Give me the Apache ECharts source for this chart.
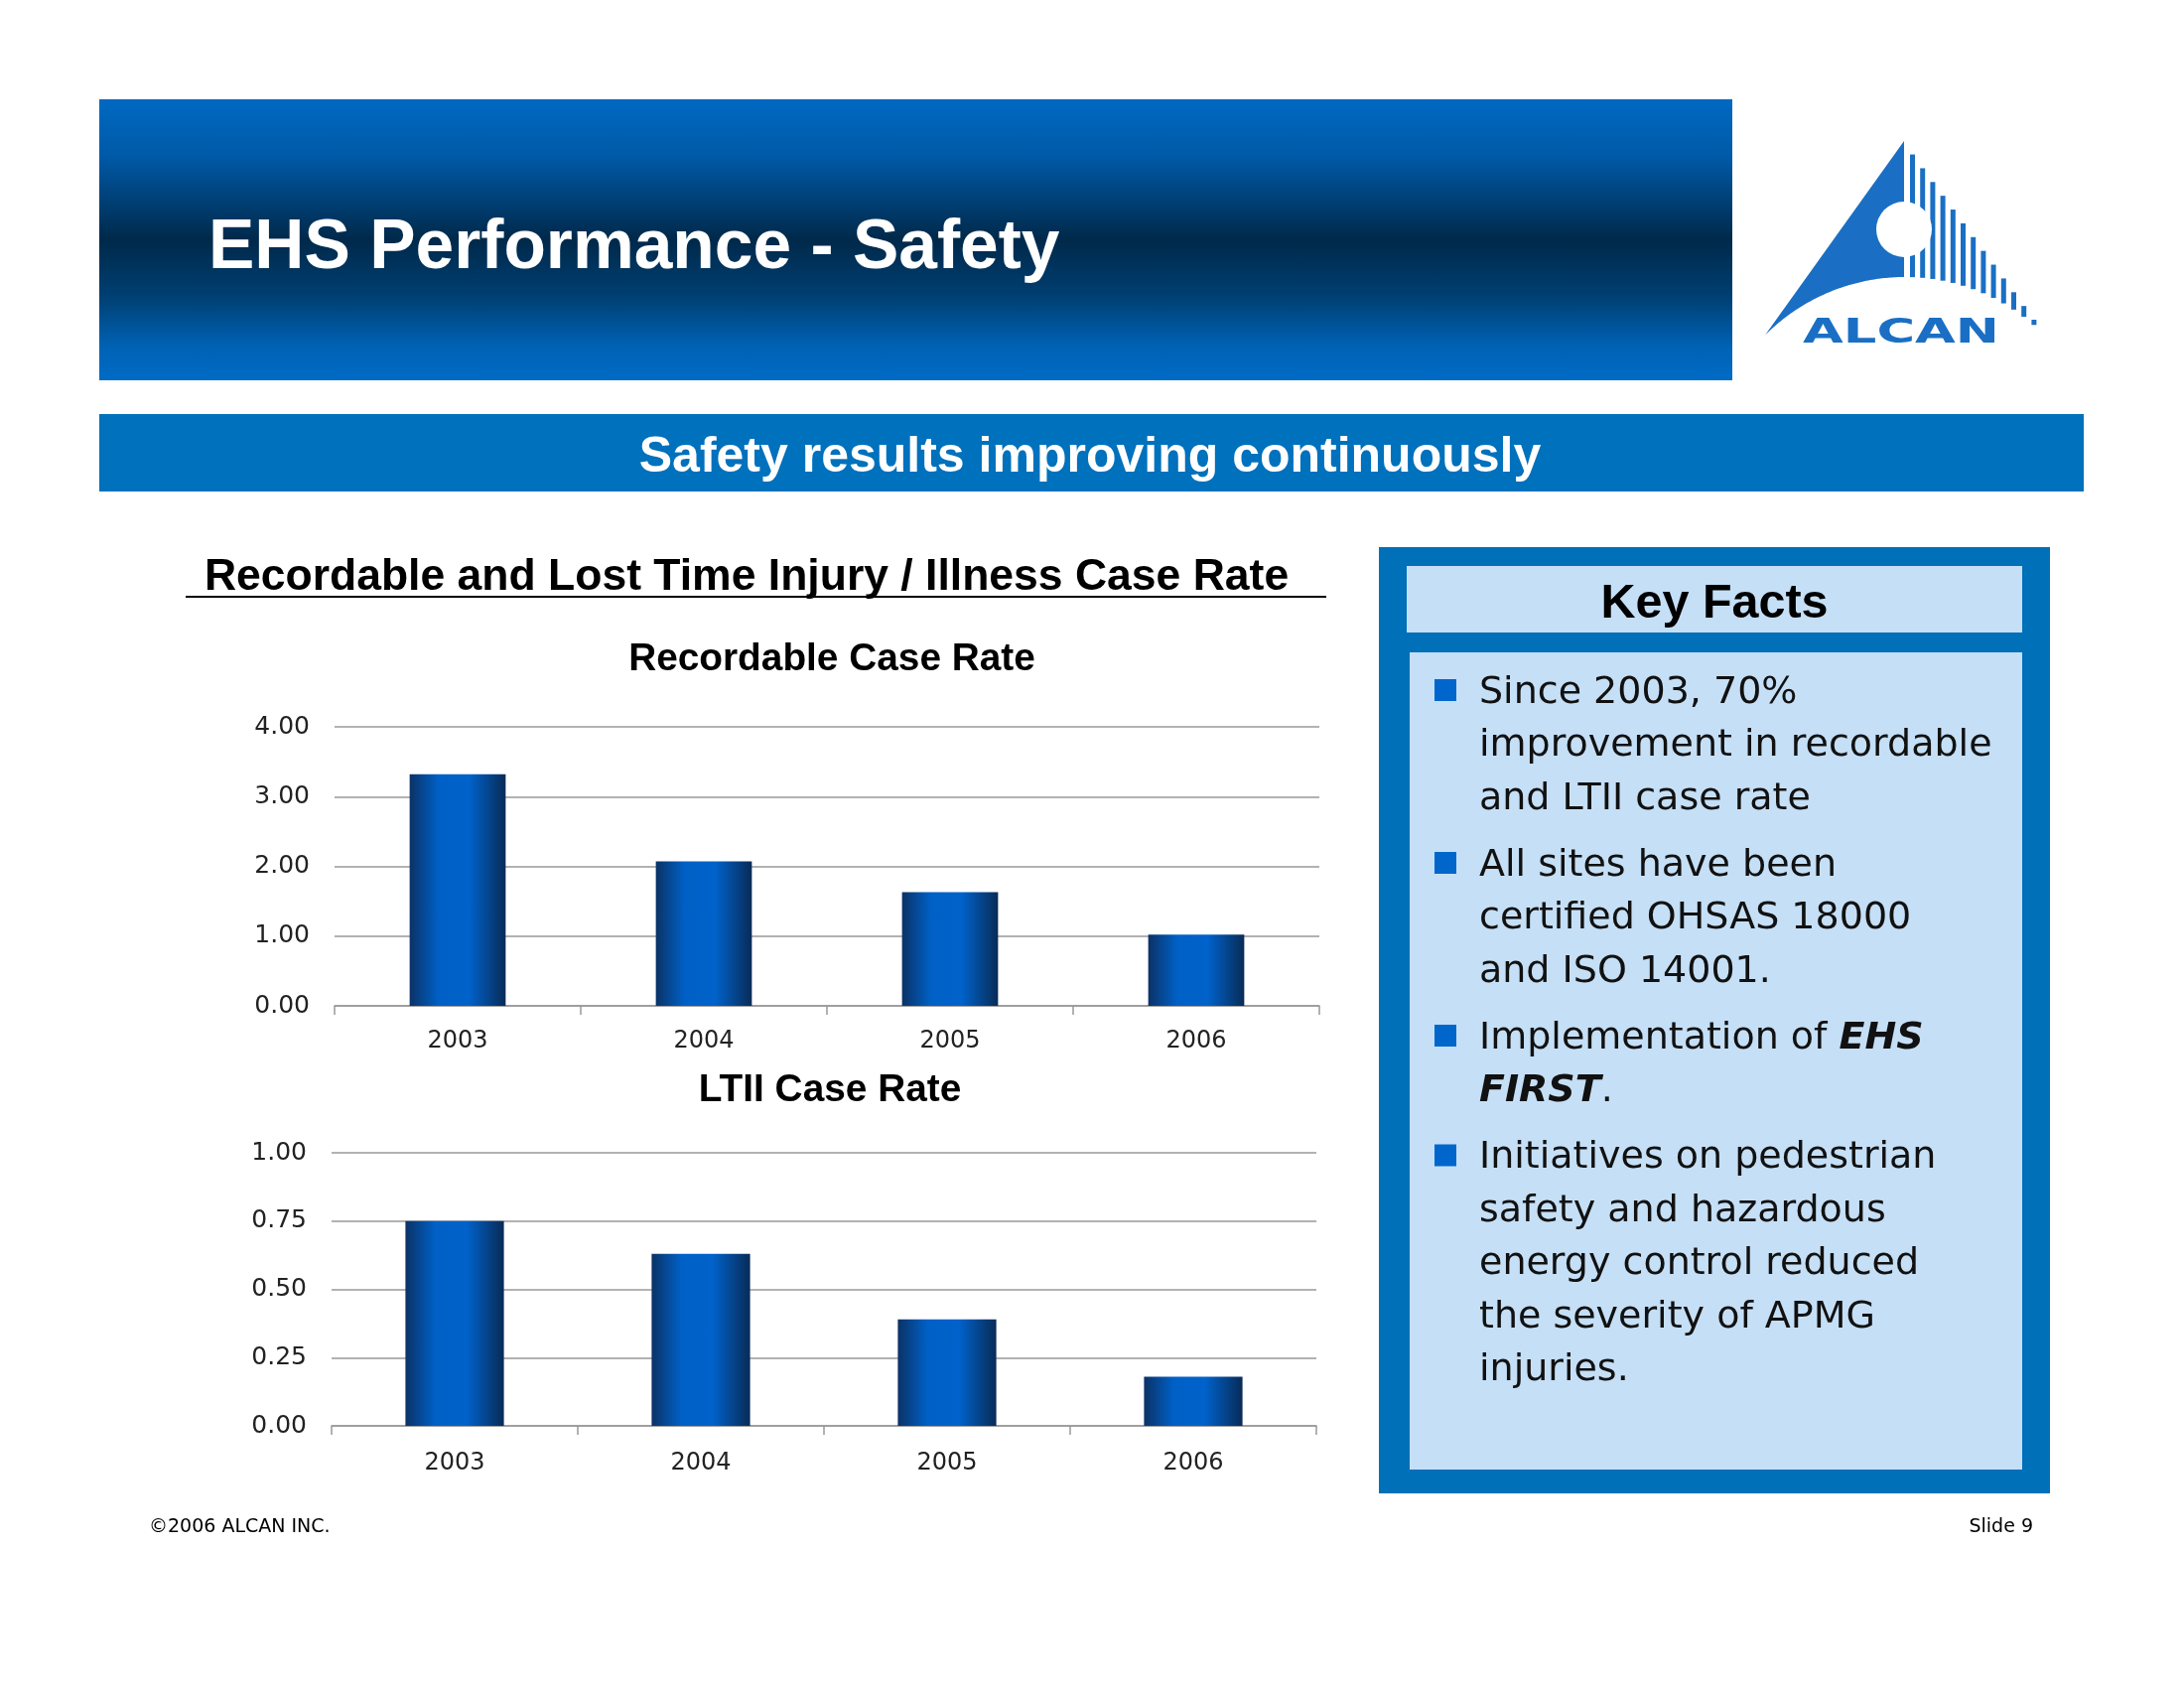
<!DOCTYPE html>
<html><head><meta charset="utf-8">
<script src="https://cdn.jsdelivr.net/npm/echarts@6/dist/echarts.min.js"></script>
<style>html,body{margin:0;padding:0;background:#fff}#c{width:2200px;height:1700px}</style>
</head><body><div id="c"></div>
<script>
// ---- data ----
const years = ['2003', '2004', '2005', '2006'];
const recordableRate = [3.32, 2.07, 1.63, 1.02];
const ltiiRate = [0.75, 0.63, 0.39, 0.18];
const recordableTicks = [0, 1, 2, 3, 4];
const ltiiTicks = [0, 0.25, 0.5, 0.75, 1];
const slideTitle = 'EHS Performance - Safety';
const slideSubtitle = 'Safety results improving continuously';
const sectionTitle = 'Recordable and Lost Time Injury / Illness Case Rate';
const chartTitles = ['Recordable Case Rate', 'LTII Case Rate'];
const keyFactsTitle = 'Key Facts';
const keyFacts = [
  ['Since 2003, 70%', 'improvement in recordable', 'and LTII case rate'],
  ['All sites have been', 'certified OHSAS 18000', 'and ISO 14001.'],
  ['Implementation of {b|EHS}', '{b|FIRST}.'],
  ['Initiatives on pedestrian', 'safety and hazardous', 'energy control reduced', 'the severity of APMG', 'injuries.']
];
const footerLeft = '\u00A92006 ALCAN INC.';
const footerRight = 'Slide 9';

// ---- build ----
const chart = echarts.init(document.getElementById('c'), null, {renderer: 'canvas'});
const LG = echarts.graphic.LinearGradient;
const barFill = new LG(0, 0, 1, 0, [
  {offset: 0, color: '#0b3266'},
  {offset: 0.3, color: '#0060c6'},
  {offset: 0.62, color: '#0062ca'},
  {offset: 1, color: '#082b57'}
]);
const SANS = 'Liberation Sans, Arial, sans-serif';
const WIDE = 'DejaVu Sans, sans-serif';

const g = [];
// header band
g.push({type: 'rect', shape: {x: 100, y: 100, width: 1645, height: 283}, z: 1,
  style: {fill: new LG(0, 0, 0, 1, [
    {offset: 0, color: '#0069c2'}, {offset: 0.2, color: '#005aa8'},
    {offset: 0.5, color: '#00294a'}, {offset: 0.7, color: '#003f72'},
    {offset: 0.88, color: '#0062b4'}, {offset: 1, color: '#006bc6'}])}});
g.push({type: 'text', x: 210, y: 251, z: 2,
  style: {text: slideTitle, font: 'bold 69.5px ' + SANS, fill: '#fff', textVerticalAlign: 'middle'}});
// subtitle band
g.push({type: 'rect', shape: {x: 100, y: 417, width: 1999, height: 78}, z: 1, style: {fill: '#0071bc'}});
g.push({type: 'text', x: 1098, y: 461, z: 2,
  style: {text: slideSubtitle, font: 'bold 50px ' + SANS, fill: '#fff', textAlign: 'center', textVerticalAlign: 'middle'}});

// logo
(function () {
  const cx = 1919, cy = 478, R = 199;
  const arcY = x => cy - Math.sqrt(Math.max(0, R * R - (x - cx) * (x - cx)));
  const pts = [[1918, 142], [1778, arcY(1778)]];
  for (let x = 1780; x <= 1918; x += 2) pts.push([x, arcY(x)]);
  pts.push([1918, arcY(1918)]);
  const blue = '#1a6fc4';
  g.push({type: 'polygon', shape: {points: pts}, z: 3, style: {fill: blue}});
  for (let i = 0; i < 14; i++) {
    const x = 1924 + i * 10.2;
    const top = 144 + (x + 2.5 - 1918) * 1.36;
    const bot = arcY(x + 2.5);
    if (bot - top > 1) g.push({type: 'rect', shape: {x: x, y: top, width: 5, height: bot - top}, z: 3, style: {fill: blue}});
  }
  g.push({type: 'circle', shape: {cx: 1918, cy: 231, r: 28}, z: 4, style: {fill: '#fff'}});
  g.push({type: 'text', x: 1915, y: 336, scaleX: 1.55, z: 4,
    style: {text: 'ALCAN', x: 0, y: 0, font: 'bold 34px ' + WIDE, fill: blue, textAlign: 'center', textVerticalAlign: 'middle'}});
})();

// section title
g.push({type: 'text', x: 752, y: 582, z: 2,
  style: {text: sectionTitle, font: 'bold 44.5px ' + SANS, fill: '#000', textAlign: 'center', textVerticalAlign: 'middle'}});
g.push({type: 'line', shape: {x1: 187, y1: 601, x2: 1336, y2: 601}, z: 2, style: {stroke: '#000', lineWidth: 2}});
// chart titles
g.push({type: 'text', x: 838, y: 664, z: 2,
  style: {text: chartTitles[0], font: 'bold 38.8px ' + SANS, fill: '#000', textAlign: 'center', textVerticalAlign: 'middle'}});
g.push({type: 'text', x: 836, y: 1098, z: 2,
  style: {text: chartTitles[1], font: 'bold 38.8px ' + SANS, fill: '#000', textAlign: 'center', textVerticalAlign: 'middle'}});

// key facts box
g.push({type: 'rect', shape: {x: 1389, y: 551, width: 676, height: 953}, z: 1, style: {fill: '#0070b8'}});
g.push({type: 'rect', shape: {x: 1417, y: 570, width: 620, height: 67}, z: 2, style: {fill: '#c5dff6'}});
g.push({type: 'rect', shape: {x: 1420, y: 657, width: 617, height: 823}, z: 2, style: {fill: '#c5dff6'}});
g.push({type: 'text', x: 1727, y: 609, z: 3,
  style: {text: keyFactsTitle, font: 'bold 48.5px ' + SANS, fill: '#000', textAlign: 'center', textVerticalAlign: 'middle'}});
let ly = 698;
keyFacts.forEach(function (lines) {
  g.push({type: 'rect', shape: {x: 1445, y: ly - 14, width: 22, height: 22}, z: 3, style: {fill: '#0066cc'}});
  lines.forEach(function (t, k) {
    g.push({type: 'text', x: 1490, y: ly + k * 53.5, z: 3,
      style: {text: t, font: '38px ' + WIDE, fill: '#111', textVerticalAlign: 'middle',
        rich: {b: {font: 'italic bold 38px ' + WIDE, fill: '#111'}}}});
  });
  ly += (lines.length - 1) * 53.5 + 67;
});

// footer
g.push({type: 'text', x: 150, y: 1538, z: 2,
  style: {text: footerLeft, font: '19px ' + WIDE, fill: '#000', textVerticalAlign: 'middle'}});
g.push({type: 'text', x: 2048, y: 1538, z: 2,
  style: {text: footerRight, font: '19px ' + WIDE, fill: '#000', textAlign: 'right', textVerticalAlign: 'middle'}});

function xAx(idx, margin) {
  return {type: 'category', gridIndex: idx, data: years, boundaryGap: true,
    axisLine: {show: true, lineStyle: {color: '#999', width: 1.5}},
    axisTick: {show: true, length: 9, lineStyle: {color: '#999', width: 1.5}},
    axisLabel: {color: '#222', fontSize: 24, fontFamily: WIDE, margin: margin}};
}
function yAx(idx, ticks) {
  return {type: 'value', gridIndex: idx, min: ticks[0], max: ticks[ticks.length - 1],
    interval: ticks[1] - ticks[0],
    axisLine: {show: false}, axisTick: {show: false},
    splitLine: {show: true, lineStyle: {color: '#999', width: 1.5}},
    axisLabel: {color: '#222', fontSize: 25, fontFamily: WIDE, margin: 25,
      formatter: v => v.toFixed(2)}};
}

chart.setOption({
  backgroundColor: '#fff',
  animation: false,
  grid: [
    {left: 337, right: 871, top: 732, height: 281},
    {left: 334, right: 874, top: 1161, height: 275}
  ],
  xAxis: [xAx(0, 24), xAx(1, 26)],
  yAxis: [yAx(0, recordableTicks), yAx(1, ltiiTicks)],
  series: [
    {type: 'bar', xAxisIndex: 0, yAxisIndex: 0, data: recordableRate, barWidth: '39%', itemStyle: {color: barFill}},
    {type: 'bar', xAxisIndex: 1, yAxisIndex: 1, data: ltiiRate, barWidth: '40%', itemStyle: {color: barFill}}
  ],
  graphic: {elements: g}
});
</script></body></html>
